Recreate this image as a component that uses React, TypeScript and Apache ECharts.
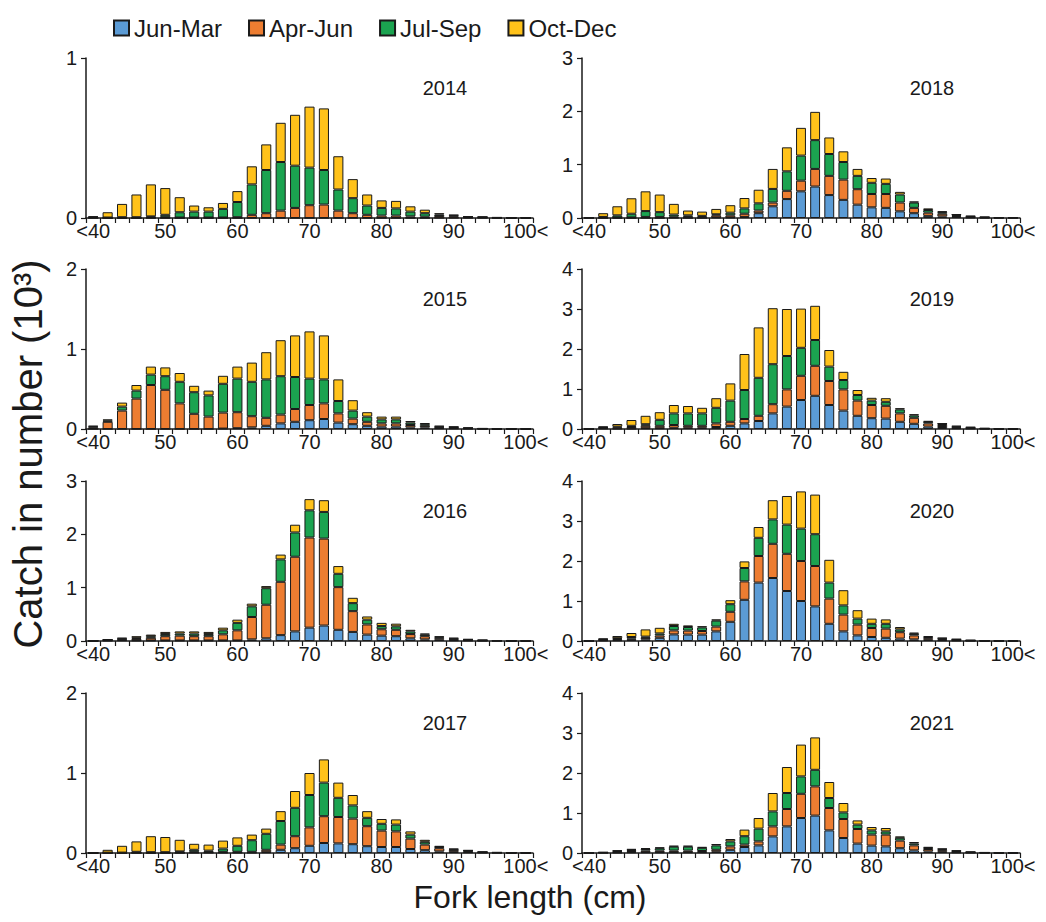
import React, { useEffect, useRef } from "react";
import * as echarts from "echarts";

// Fork length bins (2 cm)
const bins = ["<40","42","44","46","48","50","52","54","56","58","60","62","64","66","68","70","72","74","76","78","80","82","84","86","88","90","92","94","96","98","100<"];
const seasons = ["Jun-Mar", "Apr-Jun", "Jul-Sep", "Oct-Dec"];
const seasonColors = ["#5B9BD5", "#ED7D31", "#1BA350", "#FFC21A"];

// 2014 (10^3 fish)
const y2014JunMar = [0,0,0,0,0,0,0,0,0,0, 0,0,0,0,0,0,0,0,0,0, 0,0,0,0,0.002,0.002,0.001,0.001,0,0,0];
const y2014AprJun = [0.003,0,0,0,0.005,0.005,0.003,0.003,0.003,0.003, 0.005,0.02,0.03,0.046,0.063,0.08,0.084,0.046,0.03,0.02, 0.015,0.015,0.01,0.008,0.01,0.008,0.004,0.003,0.002,0.001,0.001];
const y2014JulSep = [0.003,0.003,0.005,0.005,0.005,0.015,0.033,0.037,0.037,0.054, 0.095,0.19,0.27,0.304,0.264,0.235,0.216,0.132,0.094,0.058, 0.048,0.045,0.03,0.022,0.01,0.006,0.003,0.002,0.001,0.001,0.001];
const y2014OctDec = [0.004,0.033,0.083,0.142,0.2,0.167,0.094,0.038,0.027,0.037, 0.068,0.113,0.16,0.245,0.318,0.381,0.385,0.208,0.119,0.069, 0.047,0.047,0.033,0.022,0.008,0.004,0.002,0.002,0.001,0.001,0.001];

// 2015
const y2015JunMar = [0,0,0,0,0,0,0,0,0,0.005, 0.01,0.02,0.04,0.07,0.09,0.11,0.125,0.08,0.06,0.04, 0.03,0.03,0.02,0.02,0.01,0.008,0.004,0.002,0.001,0.001,0.001];
const y2015AprJun = [0.02,0.09,0.23,0.38,0.55,0.49,0.32,0.19,0.155,0.2, 0.2,0.14,0.1,0.11,0.16,0.19,0.195,0.115,0.07,0.05, 0.04,0.04,0.03,0.02,0.01,0.008,0.004,0.002,0.001,0.001,0.001];
const y2015JulSep = [0.01,0.015,0.05,0.1,0.13,0.17,0.27,0.27,0.265,0.36, 0.42,0.43,0.48,0.48,0.4,0.33,0.3,0.155,0.1,0.065, 0.05,0.05,0.03,0.02,0.01,0.008,0.004,0.002,0.001,0.001,0.001];
const y2015OctDec = [0.01,0.015,0.05,0.07,0.1,0.11,0.11,0.08,0.06,0.1, 0.15,0.24,0.34,0.45,0.52,0.59,0.55,0.27,0.13,0.055, 0.035,0.035,0.02,0.015,0.01,0.006,0.005,0.002,0.001,0.001,0.001];

// 2016
const y2016JunMar = [0.001,0.008,0.015,0.01,0.01,0.01,0.01,0.01,0.01,0.01, 0.01,0.03,0.05,0.11,0.18,0.25,0.29,0.21,0.17,0.12, 0.1,0.09,0.05,0.03,0.025,0.015,0.009,0.005,0.003,0.001,0.001];
const y2016AprJun = [0.002,0.008,0.015,0.03,0.05,0.08,0.09,0.08,0.08,0.115, 0.19,0.42,0.63,1.0,1.4,1.69,1.63,0.8,0.39,0.19, 0.12,0.12,0.08,0.06,0.025,0.015,0.009,0.005,0.003,0.002,0.001];
const y2016JulSep = [0.001,0.007,0.015,0.02,0.03,0.04,0.04,0.05,0.04,0.075, 0.14,0.2,0.31,0.42,0.455,0.51,0.5,0.25,0.15,0.09, 0.06,0.065,0.05,0.03,0.02,0.015,0.009,0.005,0.002,0.001,0.001];
const y2016OctDec = [0.001,0.007,0.015,0.03,0.03,0.04,0.04,0.04,0.04,0.05, 0.06,0.05,0.04,0.09,0.145,0.21,0.22,0.145,0.1,0.06, 0.06,0.05,0.03,0.02,0.02,0.015,0.008,0.005,0.002,0.001,0.002];

// 2017
const y2017JunMar = [0,0,0,0,0,0,0,0.005,0.005,0.005, 0.005,0.005,0.01,0.04,0.06,0.09,0.125,0.12,0.11,0.085, 0.075,0.075,0.05,0.035,0.02,0.015,0.01,0.004,0.002,0.001,0.001];
const y2017AprJun = [0,0.003,0.003,0.005,0.005,0.005,0.01,0.01,0.01,0.01, 0.01,0.01,0.03,0.065,0.15,0.23,0.335,0.33,0.32,0.25, 0.205,0.195,0.13,0.07,0.04,0.02,0.012,0.005,0.003,0.002,0.001];
const y2017JulSep = [0,0.002,0.002,0.01,0.005,0.005,0.01,0.025,0.015,0.04, 0.075,0.145,0.2,0.295,0.355,0.405,0.42,0.24,0.165,0.105, 0.085,0.085,0.05,0.035,0.015,0.01,0.008,0.003,0.002,0.001,0.001];
const y2017OctDec = [0.002,0.035,0.085,0.13,0.2,0.19,0.145,0.075,0.075,0.1, 0.105,0.07,0.065,0.123,0.21,0.275,0.29,0.19,0.13,0.083, 0.06,0.065,0.04,0.025,0.015,0.01,0.005,0.003,0.001,0.001,0.001];

// 2018
const y2018JunMar = [0.002,0,0,0,0,0,0.005,0,0,0.01, 0.01,0.02,0.09,0.22,0.355,0.5,0.59,0.43,0.34,0.25, 0.2,0.19,0.125,0.09,0.04,0.03,0.02,0.01,0.005,0.003,0.003];
const y2018AprJun = [0.003,0.01,0.01,0.01,0.02,0.02,0.02,0.02,0.02,0.04, 0.04,0.06,0.05,0.07,0.155,0.2,0.33,0.36,0.38,0.29, 0.25,0.26,0.165,0.1,0.06,0.05,0.02,0.01,0.005,0.003,0.003];
const y2018JulSep = [0.003,0.01,0.04,0.07,0.11,0.09,0.04,0.03,0.02,0.02, 0.05,0.1,0.135,0.255,0.365,0.47,0.54,0.41,0.33,0.25, 0.21,0.19,0.15,0.1,0.05,0.03,0.02,0.01,0.005,0.002,0.002];
const y2018OctDec = [0.002,0.07,0.17,0.29,0.37,0.33,0.2,0.09,0.08,0.1, 0.14,0.195,0.255,0.375,0.45,0.52,0.53,0.31,0.2,0.13, 0.09,0.1,0.05,0.02,0.03,0.015,0.01,0.01,0.005,0.002,0.002];

// 2019
const y2019JunMar = [0,0.015,0.01,0.01,0.02,0.02,0.03,0.03,0.03,0.05, 0.08,0.14,0.2,0.39,0.56,0.725,0.83,0.6,0.46,0.33, 0.27,0.26,0.18,0.13,0.06,0.05,0.02,0.012,0.005,0.003,0.001];
const y2019AprJun = [0,0.015,0.03,0.04,0.06,0.06,0.07,0.05,0.05,0.09, 0.1,0.11,0.13,0.23,0.43,0.605,0.75,0.6,0.53,0.38, 0.33,0.32,0.21,0.15,0.08,0.05,0.02,0.013,0.005,0.003,0.002];
const y2019JulSep = [0,0.015,0.02,0.03,0.04,0.15,0.29,0.31,0.31,0.39, 0.53,0.725,0.95,1.0,0.835,0.7,0.645,0.36,0.235,0.14, 0.11,0.1,0.1,0.06,0.04,0.03,0.02,0.013,0.005,0.002,0.001];
const y2019OctDec = [0,0.015,0.065,0.145,0.21,0.19,0.21,0.185,0.14,0.24, 0.43,0.9,1.26,1.4,1.175,0.98,0.855,0.415,0.205,0.125, 0.07,0.09,0.03,0.03,0.02,0.01,0.02,0.012,0.005,0.002,0.001];

// 2020
const y2020JunMar = [0,0.015,0.02,0.03,0.04,0.08,0.165,0.16,0.16,0.24, 0.48,1.03,1.46,1.575,1.25,1.0,0.865,0.43,0.24,0.14, 0.1,0.08,0.06,0.04,0.03,0.02,0.012,0.005,0.003,0.001,0.001];
const y2020AprJun = [0,0.015,0.03,0.03,0.04,0.06,0.1,0.1,0.09,0.12, 0.25,0.46,0.665,0.855,0.93,1.0,1.01,0.63,0.42,0.27, 0.225,0.23,0.16,0.1,0.04,0.025,0.015,0.007,0.003,0.002,0.001];
const y2020JulSep = [0,0.015,0.02,0.04,0.03,0.05,0.11,0.09,0.09,0.15, 0.19,0.335,0.455,0.61,0.73,0.81,0.795,0.4,0.23,0.15, 0.105,0.12,0.07,0.04,0.03,0.02,0.012,0.005,0.002,0.001,0.001];
const y2020OctDec = [0,0.015,0.055,0.1,0.18,0.14,0.055,0.04,0.03,0.03, 0.1,0.165,0.27,0.48,0.715,0.93,0.99,0.57,0.38,0.21, 0.13,0.11,0.06,0.03,0.025,0.015,0.011,0.003,0.002,0.001,0.002];

// 2021
const y2021JunMar = [0,0.005,0.01,0.02,0.02,0.02,0.02,0.02,0.02,0.03, 0.08,0.15,0.19,0.415,0.665,0.875,0.935,0.565,0.375,0.235, 0.185,0.165,0.12,0.065,0.04,0.03,0.015,0.008,0.004,0.002,0.001];
const y2021AprJun = [0,0.005,0.02,0.03,0.04,0.04,0.04,0.04,0.03,0.05, 0.085,0.06,0.1,0.25,0.435,0.605,0.73,0.56,0.475,0.365, 0.275,0.295,0.19,0.125,0.06,0.04,0.02,0.008,0.004,0.002,0.002];
const y2021JulSep = [0,0.005,0.02,0.03,0.04,0.06,0.1,0.1,0.08,0.11, 0.125,0.21,0.32,0.375,0.4,0.435,0.415,0.25,0.165,0.11, 0.105,0.08,0.07,0.05,0.03,0.025,0.015,0.007,0.004,0.002,0.001];
const y2021OctDec = [0,0.005,0.015,0.02,0.025,0.02,0.02,0.02,0.02,0.035, 0.06,0.165,0.265,0.46,0.65,0.795,0.81,0.4,0.235,0.105, 0.085,0.085,0.035,0.035,0.02,0.015,0.015,0.007,0.003,0.002,0.001];

const years = ["2014", "2018", "2015", "2019", "2016", "2020", "2017", "2021"];
const yMax = [1, 3, 2, 4, 3, 4, 2, 4];
const panelData = [
  [y2014JunMar, y2014AprJun, y2014JulSep, y2014OctDec],
  [y2018JunMar, y2018AprJun, y2018JulSep, y2018OctDec],
  [y2015JunMar, y2015AprJun, y2015JulSep, y2015OctDec],
  [y2019JunMar, y2019AprJun, y2019JulSep, y2019OctDec],
  [y2016JunMar, y2016AprJun, y2016JulSep, y2016OctDec],
  [y2020JunMar, y2020AprJun, y2020JulSep, y2020OctDec],
  [y2017JunMar, y2017AprJun, y2017JulSep, y2017OctDec],
  [y2021JunMar, y2021AprJun, y2021JulSep, y2021OctDec],
];

const FONT = "'Liberation Sans', Arial, sans-serif";
const TXT = "#1a1a1a";

// layout
const colLeft = [86, 582];
const colWidth = [447, 438];
const rowTop = [58, 269, 481, 693];
const plotH = 160;

function buildOption() {
  const grid: any[] = [];
  const xAxis: any[] = [];
  const yAxis: any[] = [];
  const series: any[] = [];
  const graphic: any[] = [];
  years.forEach((yr, i) => {
    const col = i % 2;
    const row = Math.floor(i / 2);
    grid.push({ left: colLeft[col], top: rowTop[row], width: colWidth[col], height: plotH, containLabel: false });
    xAxis.push({
      type: "category",
      gridIndex: i,
      data: bins,
      boundaryGap: true,
      axisLine: { show: true, lineStyle: { color: TXT, width: 1.5 } },
      axisTick: { show: true, interval: 0, length: 5, lineStyle: { color: TXT, width: 1.2 } },
      axisLabel: { interval: 4, margin: 3, fontSize: 20, color: TXT, fontFamily: FONT },
      splitLine: { show: false },
    });
    yAxis.push({
      type: "value",
      gridIndex: i,
      min: 0,
      max: yMax[i],
      interval: 1,
      axisLine: { show: true, lineStyle: { color: TXT, width: 1.5 } },
      axisTick: { show: true, length: 5, lineStyle: { color: TXT, width: 1.2 } },
      axisLabel: { margin: 9, fontSize: 20, color: TXT, fontFamily: FONT },
      splitLine: { show: false },
    });
    seasons.forEach((s, k) => {
      series.push({
        type: "bar",
        name: s,
        xAxisIndex: i,
        yAxisIndex: i,
        stack: "p" + i,
        data: panelData[i][k],
        barCategoryGap: "30%",
        itemStyle: { color: seasonColors[k], borderColor: "#1a1a1a", borderWidth: 1 },
      });
    });
    graphic.push({
      type: "text",
      x: colLeft[col] + colWidth[col] - 88,
      y: rowTop[row] + 30,
      style: { text: yr, fontSize: 20, fontFamily: FONT, fill: TXT, align: "center", verticalAlign: "middle" },
    });
  });
  graphic.push({
    type: "text",
    x: 28,
    y: 454,
    rotation: Math.PI / 2,
    style: { text: "Catch in number (10³)", fontSize: 40, fontFamily: FONT, fill: TXT, align: "center", verticalAlign: "middle" },
  });
  graphic.push({
    type: "text",
    x: 530,
    y: 897,
    style: { text: "Fork length (cm)", fontSize: 32, fontFamily: FONT, fill: TXT, align: "center", verticalAlign: "middle" },
  });
  return {
    animation: false,
    backgroundColor: "#ffffff",
    legend: {
      data: seasons,
      left: 108,
      top: 11,
      icon: "rect",
      itemWidth: 15,
      itemHeight: 15,
      itemGap: 26,
      textStyle: { fontSize: 24, color: TXT, fontFamily: FONT },
    },
    grid,
    xAxis,
    yAxis,
    series,
    graphic,
  };
}

export default function App() {
  const ref = useRef<HTMLDivElement>(null);
  useEffect(() => {
    const chart = echarts.init(ref.current!, null, { renderer: "svg" });
    chart.setOption(buildOption() as any);
    return () => chart.dispose();
  }, []);
  return (
    <div
      ref={ref}
      style={{ position: "absolute", left: 0, top: 0, width: 1046, height: 922, background: "#fff" }}
    />
  );
}
